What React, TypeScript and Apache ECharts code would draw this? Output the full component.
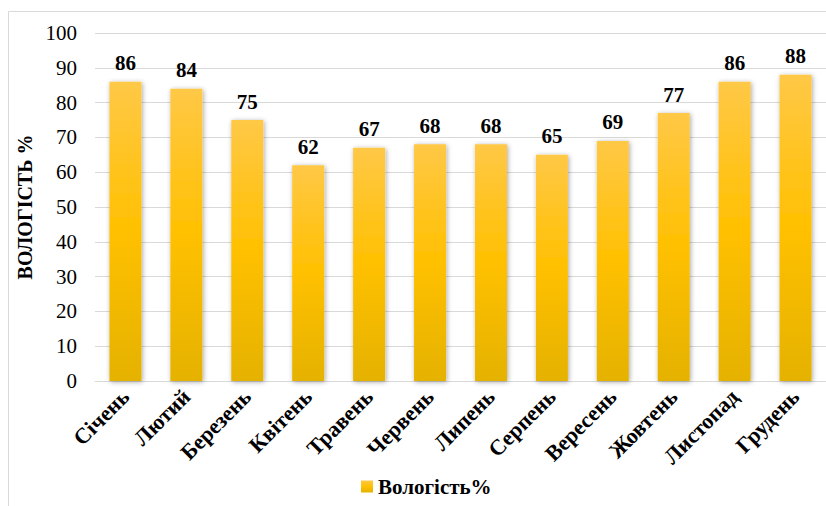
import React, { useEffect, useRef } from "react";
import * as echarts from "echarts";

const months = ["Січень", "Лютий", "Березень", "Квітень", "Травень", "Червень", "Липень", "Серпень", "Вересень", "Жовтень", "Листопад", "Грудень"];
const humidity = [86, 84, 75, 62, 67, 68, 68, 65, 69, 77, 86, 88];
const seriesName = "Вологість%";
const axisName = "ВОЛОГІСТЬ %";

const FONT = "Liberation Serif";

export default function App() {
  const ref = useRef<HTMLDivElement>(null);
  useEffect(() => {
    if (!ref.current) return;
    const chart = echarts.init(ref.current, null, { renderer: "svg" });
    const barColor = new echarts.graphic.LinearGradient(0, 0, 0, 1, [
      { offset: 0, color: "#FFC846" },
      { offset: 0.5, color: "#FFC000" },
      { offset: 1, color: "#E5B200" },
    ]);
    chart.setOption({
      animation: false,
      backgroundColor: "#ffffff",
      textStyle: { fontFamily: FONT },
      graphic: [
        {
          type: "rect",
          shape: { x: 8.5, y: 11.5, width: 830, height: 500 },
          style: { fill: "none", stroke: "#d9d9d9", lineWidth: 1 },
          silent: true,
        },
      ],
      grid: { left: 95, top: 33, width: 732, height: 348, containLabel: false },
      legend: {
        bottom: 4,
        left: 356,
        itemWidth: 12,
        itemHeight: 12,
        itemGap: 5,
        textStyle: { fontFamily: FONT, fontSize: 21, fontWeight: "bold", color: "#000" },
        data: [{ name: seriesName, icon: "rect" }],
      },
      xAxis: {
        type: "category",
        data: months,
        axisTick: { show: false },
        axisLine: { show: true, lineStyle: { color: "#d9d9d9", width: 1 } },
        axisLabel: {
          rotate: 45,
          interval: 0,
          margin: 12,
          fontFamily: FONT,
          fontSize: 22,
          fontWeight: "bold",
          color: "#000",
        },
      },
      yAxis: {
        type: "value",
        min: 0,
        max: 100,
        interval: 10,
        name: axisName,
        nameLocation: "middle",
        nameGap: 60,
        nameTextStyle: { fontFamily: FONT, fontSize: 20, fontWeight: "bold", color: "#000" },
        axisLine: { show: false },
        axisTick: { show: false },
        axisLabel: { margin: 18, fontFamily: FONT, fontSize: 21, color: "#000" },
        splitLine: { lineStyle: { color: "#d9d9d9", width: 1 } },
      },
      series: [
        {
          name: seriesName,
          type: "bar",
          data: humidity,
          barWidth: 32,
          itemStyle: {
            color: barColor,
            shadowColor: "rgba(0,0,0,0.35)",
            shadowBlur: 5,
            shadowOffsetX: 1,
            shadowOffsetY: 1,
          },
          label: {
            show: true,
            position: "top",
            distance: 8,
            fontFamily: FONT,
            fontSize: 21,
            fontWeight: "bold",
            color: "#000",
          },
        },
      ],
    });
    return () => chart.dispose();
  }, []);
  return <div ref={ref} style={{ width: 826, height: 506, position: "absolute", left: 0, top: 0 }} />;
}
